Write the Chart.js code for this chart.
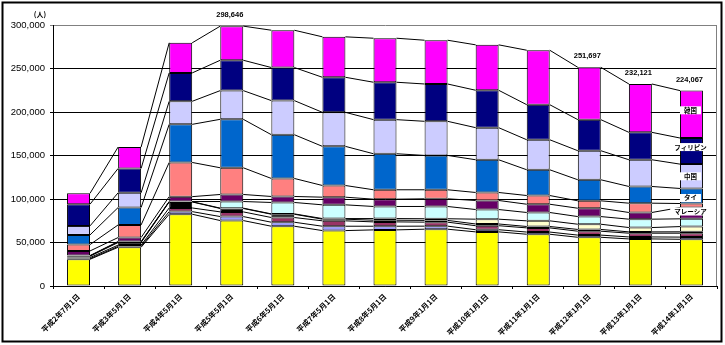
<!DOCTYPE html>
<html><head><meta charset="utf-8">
<script src="https://cdn.jsdelivr.net/npm/chart.js@4"></script>
<style>html,body{margin:0;padding:0;background:#fff}</style>
</head><body>
<canvas id="c" width="725" height="345"></canvas>
<script>
const categories = ["平成2年7月1日","平成3年5月1日","平成4年5月1日","平成5年5月1日","平成6年5月1日","平成7年5月1日","平成8年5月1日","平成9年1月1日","平成10年1月1日","平成11年1月1日","平成12年1月1日","平成13年1月1日","平成14年1月1日"];
const sonota     = [30700,44500,82500,75200,68700,63700,64500,65300,62200,59500,56000,54100,53700];
const pakistan   = [800,1000,3000,4600,4600,5000,4200,3500,2500,2500,2500,2300,2500];
const bangladesh = [1200,1500,4200,5400,5400,6200,5000,4600,4600,4800,4500,4300,4500];
const myanmar    = [1500,3000,6900,3900,3800,1900,1900,2000,2000,1600,2000,1500,1600];
const indonesia  = [500,600,300,400,400,700,1900,1900,5500,6500,6000,5000,6000];
const peru       = [300,500,200,7600,13100,15800,13900,14100,11100,9600,8800,9600,8900];
const taiwan     = [5300,4600,5600,8100,6900,8800,8400,8800,10400,9500,9600,7700,13000];
const malaysia   = [7300,14500,39300,30700,20700,13400,10800,10400,9200,10000,8500,10700,4600];
const thai       = [11100,20000,43800,55700,50300,45000,41400,39500,37600,29600,24200,19200,17300];
const china      = [10400,16900,26500,33000,39200,39100,39200,39200,36900,34500,33400,30700,28000];
const philippines= [24900,28000,32600,34900,38000,40300,43000,42900,43000,40300,35700,31500,30000];
const korea      = [12500,24600,34600,39200,42900,46500,50600,50300,52200,62600,60200,55600,54500];
const totalsShown = [null,null,null,298646,null,null,null,null,null,null,251697,232121,224067];
const yTicks = [0,50000,100000,150000,200000,250000,300000];

const seriesDefs = [
  ["その他", sonota, "#FFFF00"],
  ["パキスタン", pakistan, "#9999FF"],
  ["バングラデシュ", bangladesh, "#993366"],
  ["ミャンマー", myanmar, "#000000"],
  ["インドネシア", indonesia, "#FFFFCC"],
  ["ペルー", peru, "#CCFFFF"],
  ["中国(台湾)", taiwan, "#660066"],
  ["マレーシア", malaysia, "#FF8080"],
  ["タイ", thai, "#0066CC"],
  ["中国", china, "#CCCCFF"],
  ["フィリピン", philippines, "#000080"],
  ["韓国", korea, "#FF00FF"]
];
const lastBarLabels = {"韓国":-4,"フィリピン":-4,"中国":0,"タイ":2,"マレーシア":6};

const framePlugin = {
  id:'frame',
  beforeDraw(chart){
    const c=chart.ctx; c.save(); c.fillStyle='#fff'; c.fillRect(0,0,chart.width,chart.height); c.restore();
  },
  afterDraw(chart){
    const c=chart.ctx, a=chart.chartArea; c.save();
    c.strokeStyle='#808080'; c.lineWidth=1;
    c.beginPath(); c.moveTo(a.right-0.5,a.top); c.lineTo(a.right-0.5,a.bottom); c.stroke();
    c.strokeStyle='#000'; c.lineWidth=2;
    c.strokeRect(2.5,2.5,719,339);
    c.fillStyle='#000'; c.font='bold 7px "Noto Sans CJK JP"'; c.textAlign='center'; c.textBaseline='middle';
    c.fillText('(人)',40,14);
    c.restore();
  }
};
const seriesLines = {
  id:'seriesLines',
  afterDatasetsDraw(chart){
    const c=chart.ctx; c.save(); c.strokeStyle='#000'; c.lineWidth=1;
    chart.data.datasets.forEach((ds,di)=>{
      const meta=chart.getDatasetMeta(di);
      for(let i=0;i<meta.data.length-1;i++){
        const a=meta.data[i], b=meta.data[i+1];
        c.beginPath(); c.moveTo(a.x+a.width/2, a.y); c.lineTo(b.x-b.width/2, b.y); c.stroke();
      }
    });
    c.restore();
  }
};
const labelsPlugin = {
  id:'labels',
  afterDraw(chart){
    const c=chart.ctx; c.save();
    const top=chart.getDatasetMeta(chart.data.datasets.length-1);
    c.fillStyle='#000'; c.font='bold 7.5px "Liberation Sans"'; c.textAlign='center'; c.textBaseline='middle';
    totalsShown.forEach((t,i)=>{
      if(t==null) return;
      const el=top.data[i];
      c.fillText(t.toLocaleString('en-US'), el.x-2, el.y-11);
    });
    c.font='bold 6.5px "Noto Sans CJK JP"';
    chart.data.datasets.forEach((ds,di)=>{
      if(!(ds.label in lastBarLabels)) return;
      const meta=chart.getDatasetMeta(di);
      const el=meta.data[meta.data.length-1];
      const y=(el.y+el.base)/2+lastBarLabels[ds.label];
      const w=c.measureText(ds.label).width+8;
      c.fillStyle='#fff'; c.fillRect(el.x-w/2-1, y-4, w, 8);
      c.fillStyle='#000'; c.fillText(ds.label, el.x-1, y);
    });
    c.restore();
  }
};

new Chart(document.getElementById('c'), {
  type:'bar',
  data:{
    labels:categories,
    datasets:seriesDefs.map(([n,d,col])=>({label:n,data:d,backgroundColor:col,borderColor:'#000',borderWidth:1,borderSkipped:false,barPercentage:0.45,categoryPercentage:1}))
  },
  options:{
    responsive:false, animation:false,
    layout:{padding:{left:0,right:8,top:25,bottom:0}},
    plugins:{legend:{display:false},tooltip:{enabled:false}},
    scales:{
      x:{stacked:true,
        grid:{display:true,drawOnChartArea:false,color:'#000',tickLength:3,offset:true},
        border:{color:'#000',width:1},
        ticks:{minRotation:45,maxRotation:45,autoSkip:false,color:'#000',padding:3,font:{family:'Noto Sans CJK JP',size:7.5,weight:'bold'}},
        afterFit(s){s.height=59;}
      },
      y:{stacked:true,min:0,max:300000,
        afterBuildTicks(s){s.ticks=yTicks.map(v=>({value:v}));},
        ticks:{color:'#000',padding:5,font:{family:'Liberation Sans',size:9.5},callback:v=>v.toLocaleString('en-US')},
        grid:{color:c=>c.tick&&c.tick.value===300000?'#808080':'#000',tickLength:3},
        border:{color:'#000',width:1},
        afterFit(s){s.width=53;}
      }
    }
  },
  plugins:[framePlugin,seriesLines,labelsPlugin]
});
</script>
</body></html>
